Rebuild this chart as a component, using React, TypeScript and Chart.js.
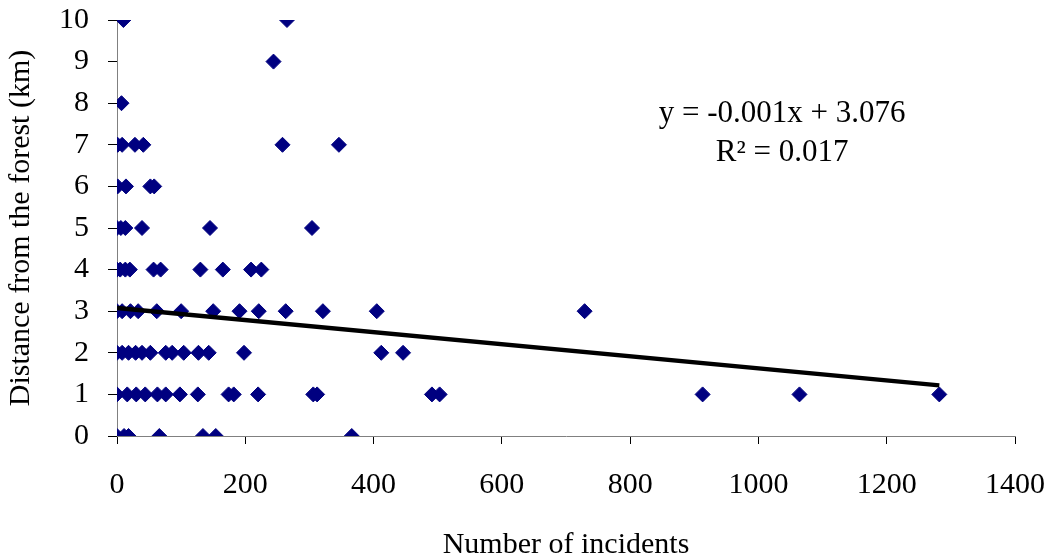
import React, { useEffect, useRef } from "react";
import { Chart, registerables } from "chart.js";

Chart.register(...registerables);

// Number of incidents observed at each distance from the forest (km)
const incidentsAt0 = [0, 11, 18, 66, 134, 154, 366];
const incidentsAt1 = [0, 16, 30, 44, 63, 76, 98, 126, 174, 182, 220, 306, 312, 491, 503, 913, 1064, 1282];
const incidentsAt2 = [0, 8, 18, 29, 39, 52, 76, 86, 104, 127, 143, 198, 412, 446];
const incidentsAt3 = [0, 8, 21, 33, 62, 100, 150, 191, 221, 263, 321, 405, 729];
const incidentsAt4 = [0, 5, 13, 20, 57, 68, 130, 165, 209, 225];
const incidentsAt5 = [0, 6, 13, 39, 145, 304];
const incidentsAt6 = [1, 14, 52, 58];
const incidentsAt7 = [1, 8, 28, 41, 258, 346];
const incidentsAt8 = [7];
const incidentsAt9 = [244];
const incidentsAt10 = [10, 265];

const distanceRows = [
  incidentsAt0, incidentsAt1, incidentsAt2, incidentsAt3, incidentsAt4, incidentsAt5,
  incidentsAt6, incidentsAt7, incidentsAt8, incidentsAt9, incidentsAt10,
];

const xTicks = [0, 200, 400, 600, 800, 1000, 1200, 1400];
const yTicks = [0, 1, 2, 3, 4, 5, 6, 7, 8, 9, 10];

const trendSlope = -0.00145;
const trendIntercept = 3.076;
const equationText = "y = -0.001x + 3.076";
const r2Text = "R\u00B2 = 0.017";

const xTitle = "Number of incidents";
const yTitle = "Distance from the forest (km)";

const FONT = "'Liberation Serif', 'Times New Roman', serif";

export default function App() {
  const canvasRef = useRef<HTMLCanvasElement | null>(null);

  useEffect(() => {
    const canvas = canvasRef.current;
    if (!canvas) return;

    const points: { x: number; y: number }[] = [];
    distanceRows.forEach((row, d) => row.forEach((n) => points.push({ x: n, y: d })));
    const maxX = Math.max(...points.map((p) => p.x));
    const trend = [
      { x: 0, y: trendIntercept },
      { x: maxX, y: trendIntercept + trendSlope * maxX },
    ];

    const annotation = {
      id: "eqAnnotation",
      afterDatasetsDraw(chart: any) {
        const { ctx, scales } = chart;
        ctx.save();
        ctx.fillStyle = "#000";
        ctx.font = `31px ${FONT}`;
        ctx.textAlign = "center";
        ctx.textBaseline = "middle";
        const cx = scales.x.getPixelForValue(1037);
        ctx.fillText(equationText, cx, scales.y.getPixelForValue(7.75));
        ctx.fillText(r2Text, cx, scales.y.getPixelForValue(6.81));
        ctx.restore();
      },
    };

    const chart = new Chart(canvas, {
      type: "scatter",
      data: {
        datasets: [
          {
            type: "line",
            data: trend,
            borderColor: "#000",
            borderWidth: 4.5,
            pointRadius: 0,
            fill: false,
          } as any,
          {
            data: points,
            backgroundColor: "#000080",
            borderColor: "#000080",
            pointStyle: "rectRot",
            pointRadius: 7.5,
            borderWidth: 1,
          },
        ],
      },
      options: {
        animation: false,
        responsive: true,
        maintainAspectRatio: false,
        layout: { padding: { top: 20, right: 35, bottom: 0, left: 0 } },
        plugins: { legend: { display: false }, tooltip: { enabled: false } },
        scales: {
          x: {
            type: "linear",
            min: 0,
            max: 1400,
            afterBuildTicks: (s: any) => {
              s.ticks = xTicks.map((v) => ({ value: v }));
            },
            afterFit: (s: any) => {
              s.height = 124;
              s.paddingLeft = 0;
              s.paddingRight = 0;
            },
            ticks: {
              color: "#000",
              font: { family: FONT, size: 30 },
              padding: 23,
              maxRotation: 0,
              callback: (v: any) => String(v),
            },
            grid: {
              drawOnChartArea: false,
              drawTicks: true,
              tickLength: 8,
              tickColor: "#000",
            },
            border: { display: true, color: "#808080", width: 1 },
            title: {
              display: true,
              text: xTitle,
              color: "#000",
              font: { family: FONT, size: 30, lineHeight: 1 },
              padding: { top: 0, bottom: 0 },
            },
          },
          y: {
            type: "linear",
            min: 0,
            max: 10,
            afterBuildTicks: (s: any) => {
              s.ticks = yTicks.map((v) => ({ value: v }));
            },
            afterFit: (s: any) => {
              s.width = 117;
              s.paddingTop = 0;
              s.paddingBottom = 0;
            },
            ticks: {
              color: "#000",
              font: { family: FONT, size: 30 },
              padding: 19,
              callback: (v: any) => String(v),
            },
            grid: {
              drawOnChartArea: false,
              drawTicks: true,
              tickLength: 9,
              tickColor: "#000",
            },
            border: { display: true, color: "#808080", width: 1 },
            title: {
              display: true,
              text: yTitle,
              color: "#000",
              font: { family: FONT, size: 30, lineHeight: 1 },
              padding: { top: 6, bottom: 0 },
            },
          },
        },
      },
      plugins: [annotation],
    });

    return () => chart.destroy();
  }, []);

  return (
    <div style={{ position: "absolute", left: 0, top: 0, width: 1050, height: 560, background: "#fff" }}>
      <canvas ref={canvasRef} />
    </div>
  );
}
